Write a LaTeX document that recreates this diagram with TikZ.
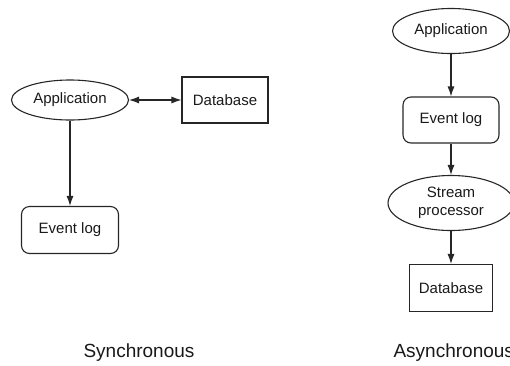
\documentclass[tikz,border=0pt]{standalone}
\usepackage{fontspec}
\setmainfont{Liberation Sans}
\usetikzlibrary{shapes.geometric,arrows.meta}
\begin{document}
\begin{tikzpicture}[x=1pt,y=-1pt,
  every node/.style={font=\fontsize{15}{17}\selectfont, inner sep=0pt, line width=1.1pt, draw=black!85, text=black!90},
  oval/.style={ellipse},
  box/.style={rectangle},
  rbox/.style={rectangle, rounded corners=8pt},
  lbl/.style={draw=none, font=\fontsize{19}{22}\selectfont, anchor=base},
  conn/.style={line width=1.1pt, draw=black!85, -{Latex[length=10pt,width=7pt]}},
  bconn/.style={line width=1.1pt, draw=black!85, {Latex[length=10pt,width=7pt]}-{Latex[length=10pt,width=7pt]}}
]
\useasboundingbox (0,0) rectangle (510,365);
% Synchronous
\node[oval, minimum width=117pt, minimum height=40pt] (app1) at (70,100) {Application};
\node[box, minimum width=86pt, minimum height=46pt] (db1) at (225,100) {Database};
\node[rbox, minimum width=97pt, minimum height=47pt] (ev1) at (70,230) {Event log};
\draw[bconn] (app1) -- (db1);
\draw[conn] (app1) -- (ev1);
% Asynchronous
\node[oval, minimum width=117pt, minimum height=45pt] (app2) at (451,31) {Application};
\node[rbox, minimum width=96pt, minimum height=46pt] (ev2) at (451,120) {Event log};
\node[oval, minimum width=126pt, minimum height=55pt, align=center, font=\fontsize{15}{18}\selectfont] (sp) at (451,203) {Stream\\processor};
\node[box, minimum width=83pt, minimum height=47pt] (db2) at (451,288) {Database};
\draw[conn] (app2) -- (ev2);
\draw[conn] (ev2) -- (sp);
\draw[conn] (sp) -- (db2);
% Labels
\node[lbl] (l1) at (139,357) {Synchronous};
\node[lbl, anchor=base west] (l2) at (393,357) {Asynchronous};
\end{tikzpicture}
\end{document}
